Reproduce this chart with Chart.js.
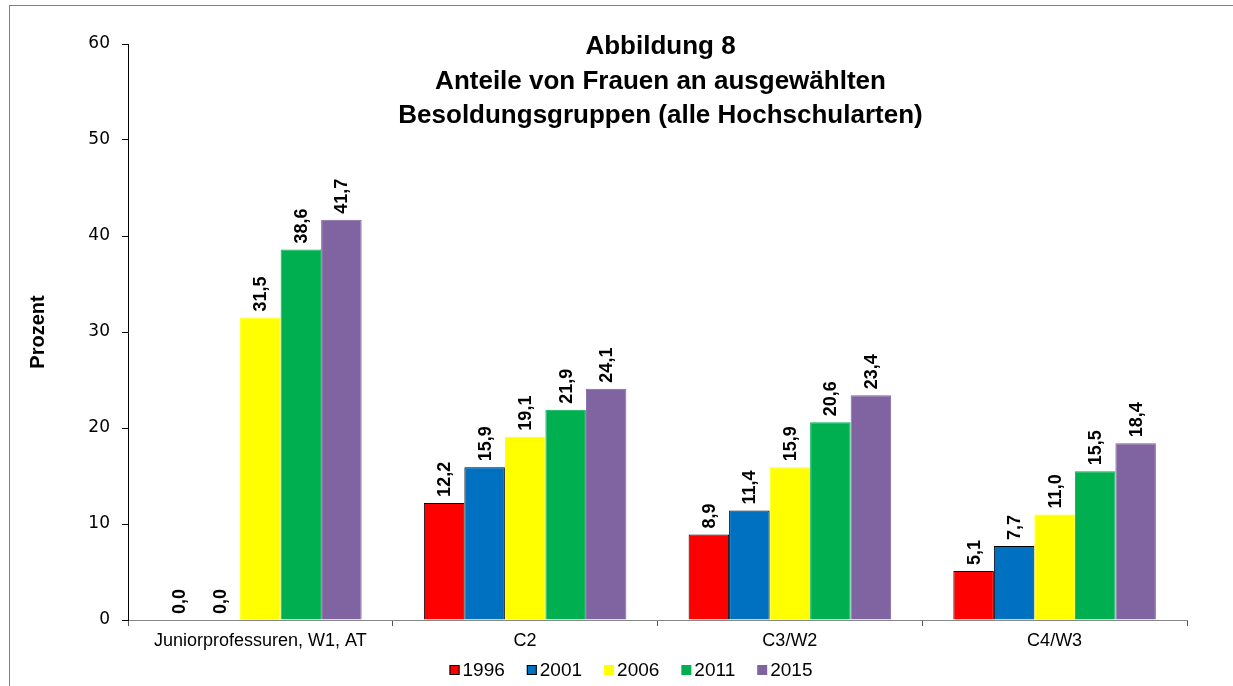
<!DOCTYPE html>
<html>
<head>
<meta charset="utf-8">
<script src="https://cdn.jsdelivr.net/npm/chart.js@4.4.0/dist/chart.umd.min.js"></script>
<style>
  html, body { margin: 0; padding: 0; background: #fff; }
  #wrap { width: 1233px; height: 686px; }
</style>
</head>
<body>
<div id="wrap"><canvas id="mycanvas" width="1233" height="686"></canvas></div>
<script>
var categories = ['Juniorprofessuren, W1, AT', 'C2', 'C3/W2', 'C4/W3'];
var years = ['1996', '2001', '2006', '2011', '2015'];
var v1996 = [0.0, 12.2, 8.9, 5.1];
var v2001 = [0.0, 15.9, 11.4, 7.7];
var v2006 = [31.5, 19.1, 15.9, 11.0];
var v2011 = [38.6, 21.9, 20.6, 15.5];
var v2015 = [41.7, 24.1, 23.4, 18.4];
var yTicks = [0, 10, 20, 30, 40, 50, 60];
var titleLines = ['Abbildung 8', 'Anteile von Frauen an ausgewählten', 'Besoldungsgruppen (alle Hochschularten)'];

var colors = ['#FF0000', '#0070C0', '#FFFF00', '#00B050', '#8064A2'];
var borders = ['#000000', '#000000', '#FFFF00', '#00B050', '#8064A2'];
var series = [v1996, v2001, v2006, v2011, v2015];
var ARIAL = '"Liberation Sans", Arial, sans-serif';

var datasets = [];
for (var i = 0; i < years.length; i++) {
  datasets.push({
    label: years[i],
    data: series[i],
    backgroundColor: colors[i],
    borderColor: borders[i],
    borderWidth: 1,
    borderSkipped: 'start',
    barPercentage: 1.0,
    categoryPercentage: 0.765
  });
}

// frame, title inside plot area, legend at the bottom
var extras = {
  id: 'extras',
  beforeDraw: function(chart) {
    var ctx = chart.ctx;
    ctx.save();
    ctx.strokeStyle = '#808080';
    ctx.lineWidth = 1;
    ctx.strokeRect(9.5, 5.5, 1400, 1000);
    ctx.restore();
  },
  afterDraw: function(chart) {
    var ctx = chart.ctx;
    var area = chart.chartArea;
    var cx = (area.left + area.right) / 2 + 3;
    ctx.save();
    ctx.fillStyle = '#000';
    ctx.font = 'bold 26px ' + ARIAL;
    ctx.textAlign = 'center';
    ctx.textBaseline = 'middle';
    for (var k = 0; k < titleLines.length; k++) {
      ctx.fillText(titleLines[k], cx, 47 + k * 34.5);
    }

    // legend
    ctx.font = '19px ' + ARIAL;
    ctx.textAlign = 'left';
    var box = 10, gap = 3, spacing = 22;
    var widths = chart.data.datasets.map(function(ds) { return ctx.measureText(ds.label).width; });
    var total = 0;
    widths.forEach(function(w) { total += box + gap + w; });
    total += spacing * (widths.length - 1);
    var x = 631 - total / 2;
    var y = 670;
    chart.data.datasets.forEach(function(ds, idx) {
      ctx.fillStyle = ds.backgroundColor;
      ctx.fillRect(x, y - box / 2, box, box);
      if (idx < 2) {
        ctx.strokeStyle = '#000';
        ctx.lineWidth = 1;
        ctx.strokeRect(x + 0.5, y - box / 2 + 0.5, box - 1, box - 1);
      }
      ctx.fillStyle = '#000';
      ctx.fillText(ds.label, x + box + gap, y + 1);
      x += box + gap + widths[idx] + spacing;
    });
    ctx.restore();
  }
};

// rotated value labels above bars
var valueLabels = {
  id: 'valueLabels',
  afterDatasetsDraw: function(chart) {
    var ctx = chart.ctx;
    ctx.save();
    ctx.fillStyle = '#000';
    ctx.font = 'bold 18px ' + ARIAL;
    ctx.textAlign = 'left';
    ctx.textBaseline = 'middle';
    chart.data.datasets.forEach(function(ds, di) {
      var meta = chart.getDatasetMeta(di);
      meta.data.forEach(function(bar, j) {
        var txt = ds.data[j].toFixed(1).replace('.', ',');
        ctx.save();
        ctx.translate(bar.x + 1, bar.y - 6);
        ctx.rotate(-Math.PI / 2);
        ctx.fillText(txt, 0, 0);
        ctx.restore();
      });
    });
    ctx.restore();
  }
};

var ctx = document.getElementById('mycanvas');
var barGraph = new Chart(ctx, {
  type: 'bar',
  data: { labels: categories, datasets: datasets },
  plugins: [extras, valueLabels],
  options: {
    responsive: false,
    animation: false,
    layout: { padding: { left: 26, right: 46, top: 44, bottom: 0 } },
    plugins: {
      title: { display: false },
      tooltip: { enabled: false },
      legend: { display: false }
    },
    scales: {
      x: {
        grid: { display: true, drawOnChartArea: false, offset: true, tickLength: 6, color: '#555' },
        border: { display: true, color: '#888', width: 1 },
        ticks: {
          color: '#000',
          padding: 4,
          font: { family: ARIAL, size: 18 }
        },
        afterFit: function(scale) { scale.height = 66; }
      },
      y: {
        min: 0,
        max: 60,
        afterBuildTicks: function(scale) {
          scale.ticks = yTicks.map(function(v) { return { value: v }; });
        },
        grid: { display: true, drawOnChartArea: false, tickLength: 6, color: '#000' },
        border: { display: true, color: '#000', width: 1 },
        ticks: {
          color: '#000',
          padding: 12,
          font: { family: '"DejaVu Sans", Verdana, sans-serif', size: 17 }
        },
        title: {
          display: true,
          text: 'Prozent',
          color: '#000',
          padding: 0,
          font: { family: ARIAL, size: 20, weight: 'bold', lineHeight: 1.2 }
        },
        afterFit: function(scale) { scale.width = 102; }
      }
    }
  }
});
</script>
</body>
</html>
